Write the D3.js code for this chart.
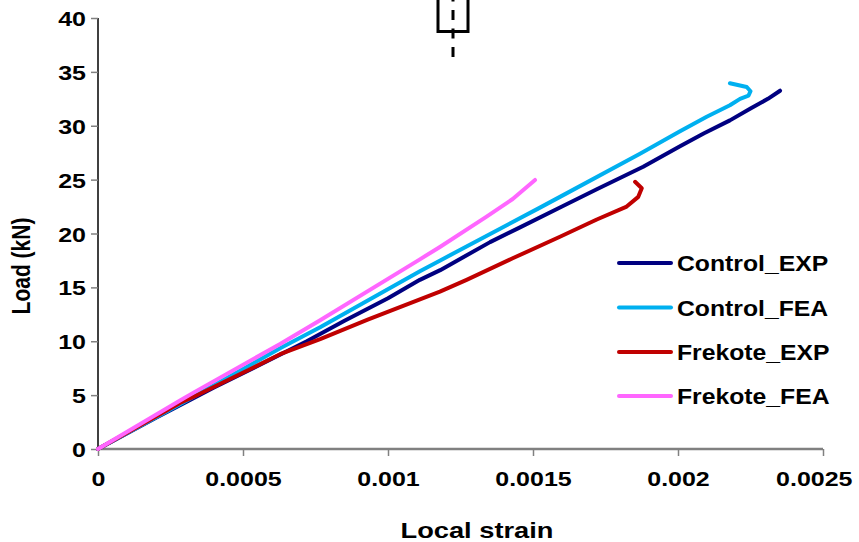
<!DOCTYPE html>
<html>
<head>
<meta charset="utf-8">
<script src="https://cdn.jsdelivr.net/npm/d3@7"></script>
<style>
  html, body { margin: 0; padding: 0; background: #fff; }
  svg { display: block; }
  text { font-family: "Liberation Sans", Arial, sans-serif; font-weight: bold; fill: #000; }
</style>
</head>
<body>
<script>
// ---- Data ----
const seriesNames = ["Control_EXP", "Control_FEA", "Frekote_EXP", "Frekote_FEA"];
const seriesColors = ["#000080", "#00B0F0", "#C00000", "#FF66FF"];

const controlEXP = [
  [0, 0], [0.0002, 2.9], [0.0004, 5.7], [0.00055, 7.7], [0.00072, 10.0], [0.00085, 11.9],
  [0.001, 14.0], [0.00111, 15.7], [0.00118, 16.6], [0.001352, 19.2], [0.00145, 20.5],
  [0.0016, 22.5], [0.00172, 24.1], [0.00188, 26.2], [0.002007, 28.1], [0.00209, 29.3],
  [0.002179, 30.5], [0.00225, 31.6], [0.00231, 32.5], [0.002352, 33.25]
];
const controlFEA = [
  [0, 0], [0.0003, 4.4], [0.000628, 9.35], [0.000766, 11.3], [0.00111, 16.5], [0.00118, 17.5],
  [0.001524, 22.4], [0.001593, 23.4], [0.001869, 27.4], [0.002007, 29.5], [0.002099, 30.84],
  [0.002179, 31.9], [0.002214, 32.5], [0.002243, 32.8], [0.00225, 33.2], [0.002237, 33.6],
  [0.002179, 33.94]
];
const frekoteEXP = [
  [0, 0], [0.000283, 4.27], [0.000334, 4.9], [0.000524, 7.4], [0.000628, 8.8], [0.000766, 10.2],
  [0.00093, 12.0], [0.001179, 14.6], [0.001271, 15.7], [0.00143, 17.7], [0.001593, 19.7],
  [0.00172, 21.3], [0.001823, 22.5], [0.001863, 23.4], [0.001875, 24.2], [0.001852, 24.8]
];
const frekoteFEA = [
  [0, 0], [0.000283, 4.5], [0.000334, 5.3], [0.000628, 9.75], [0.000766, 11.95], [0.00111, 17.6],
  [0.001179, 18.75], [0.00134, 21.56], [0.00143, 23.2], [0.001507, 24.97]
];
const seriesData = [controlEXP, controlFEA, frekoteEXP, frekoteFEA];

const xTicks = [0, 0.0005, 0.001, 0.0015, 0.002, 0.0025];
const xTickLabels = ["0", "0.0005", "0.001", "0.0015", "0.002", "0.0025"];
const yTicks = [0, 5, 10, 15, 20, 25, 30, 35, 40];
const xTitle = "Local strain";
const yTitle = "Load (kN)";

// ---- Layout ----
const W = 859, H = 542;
const SX = 1.19; // horizontal text stretch seen in the reference
const FS = 21;

const svg = d3.select("body").append("svg").attr("width", W).attr("height", H);

const x = d3.scaleLinear().domain([0, 0.0025]).range([98, 823]);
const y = d3.scaleLinear().domain([0, 40]).range([449, 18]);

function styleText(sel, fs) {
  sel.style("font-size", (fs || FS) + "px").style("font-family", "Liberation Sans, Arial, sans-serif")
    .style("font-weight", "bold").attr("fill", "#000");
}

// Y axis
const yAxis = svg.append("g").attr("transform", `translate(${x(0)},0)`)
  .call(d3.axisLeft(y).tickValues(yTicks).tickSize(7).tickFormat(d3.format("d")));
yAxis.select(".domain").attr("stroke", "#000").attr("stroke-width", 1.5).attr("d", `M0,${y(40)}V${y(0)}`);
yAxis.selectAll(".tick line").attr("stroke", "#808080").attr("stroke-width", 1.5);
yAxis.selectAll(".tick text")
  .attr("x", -12 / SX).attr("dy", "0.36em")
  .attr("transform", `scale(${SX},1)`)
  .call(styleText);

// X axis
const xAxis = svg.append("g").attr("transform", `translate(0,${y(0)})`)
  .call(d3.axisBottom(x).tickValues(xTicks).tickSize(7).tickFormat((d, i) => xTickLabels[i]));
xAxis.select(".domain").attr("stroke", "#808080").attr("stroke-width", 2.5).attr("d", `M${x(0)},0H${x(0.0025)}`);
xAxis.selectAll(".tick line").attr("stroke", "#808080").attr("stroke-width", 1.5);
xAxis.selectAll(".tick text")
  .attr("y", 37).attr("dy", 0)
  .attr("transform", `scale(${SX},1)`)
  .call(styleText);
// last label kept inside the picture, as in the reference
xAxis.selectAll(".tick text").filter((d, i) => i === xTicks.length - 1)
  .attr("text-anchor", "end").attr("x", (852 - x(0.0025)) / SX);

// Titles
svg.append("text")
  .attr("transform", `translate(477,538) scale(1.24,1)`)
  .attr("text-anchor", "middle")
  .call(styleText, 22)
  .text(xTitle);
svg.append("text")
  .attr("transform", `translate(30,266) rotate(-90) scale(1,${SX})`)
  .attr("text-anchor", "middle")
  .call(styleText)
  .text(yTitle);

// Lines
const line = d3.line().x(d => x(d[0])).y(d => y(d[1])).curve(d3.curveLinear);
seriesData.forEach((data, i) => {
  svg.append("path")
    .datum(data)
    .attr("d", line)
    .attr("fill", "none")
    .attr("stroke", seriesColors[i])
    .attr("stroke-width", 4)
    .attr("stroke-linejoin", "round")
    .attr("stroke-linecap", "round");
});

// Legend
const legendY = [263, 307.5, 352, 396];
const legend = svg.append("g");
seriesNames.forEach((name, i) => {
  legend.append("line")
    .attr("x1", 619).attr("x2", 671)
    .attr("y1", legendY[i]).attr("y2", legendY[i])
    .attr("stroke", seriesColors[i]).attr("stroke-width", 4)
    .attr("stroke-linecap", "round");
  legend.append("text")
    .attr("transform", `translate(677,${legendY[i] + 8}) scale(1.1,1)`)
    .call(styleText, 22.5)
    .text(name);
});

// Small symbol at top (rectangle with dashed centre line)
svg.append("rect")
  .attr("x", 438).attr("y", -6).attr("width", 30).attr("height", 37.5)
  .attr("fill", "none").attr("stroke", "#000").attr("stroke-width", 3);
svg.append("line")
  .attr("x1", 453).attr("x2", 453).attr("y1", -8.5).attr("y2", 57)
  .attr("stroke", "#000").attr("stroke-width", 3)
  .attr("stroke-dasharray", "10,8.5");
</script>
</body>
</html>
